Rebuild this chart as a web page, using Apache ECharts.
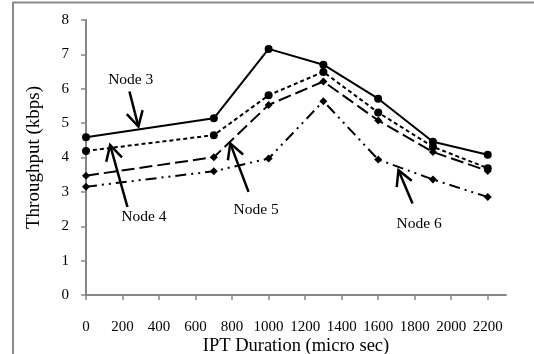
<!DOCTYPE html>
<html>
<head>
<meta charset="utf-8">
<script src="https://cdn.jsdelivr.net/npm/echarts@6/dist/echarts.min.js"></script>
<style>
html,body{margin:0;padding:0;background:#fff;}
#chart{width:534px;height:354px;}
</style>
</head>
<body>
<div id="chart"></div>
<script>
// ---- data ----
const xValues = [0, 700, 1000, 1300, 1600, 1900, 2200];
const node3 = [4.59, 5.14, 7.16, 6.70, 5.71, 4.46, 4.08];
const node4 = [4.19, 4.65, 5.81, 6.49, 5.31, 4.31, 3.69];
const node5 = [3.47, 4.01, 5.53, 6.21, 5.08, 4.16, 3.61];
const node6 = [3.15, 3.60, 3.97, 5.64, 3.94, 3.36, 2.85];
const xTickLabels = [0, 200, 400, 600, 800, 1000, 1200, 1400, 1600, 1800, 2000, 2200];
const yTickLabels = [0, 1, 2, 3, 4, 5, 6, 7, 8];
const seriesNames = ['Node 3', 'Node 4', 'Node 5', 'Node 6'];
// annotation (data coords): arrow tip, arrow tail, label position
const annotTips  = [[287, 4.90], [132, 4.36], [790, 4.41], [1711, 3.63]];
const annotTails = [[238, 5.92], [227, 2.56], [890, 3.00], [1788, 2.66]];
const annotLabels = [[245, 6.26], [317, 2.28], [932, 2.47], [1824, 2.07]];

const FONT = '"Liberation Serif", "Times New Roman", serif';
const pair = arr => xValues.map((x, i) => [x, arr[i]]);

const chart = echarts.init(document.getElementById('chart'), null, {renderer: 'canvas'});

function mkSeries(name, data, dash, symbol, size) {
  return {
    name: name, type: 'line', data: pair(data),
    symbol: symbol, symbolSize: size,
    itemStyle: {color: '#000'},
    lineStyle: {color: '#000', width: 2, type: dash},
    animation: false, z: 3
  };
}

chart.setOption({
  animation: false,
  backgroundColor: '#fff',
  grid: {left: 86, top: 20, right: 28, bottom: 59, outerBoundsMode: 'none', containLabel: false},
  xAxis: {
    type: 'value', min: 0, max: 2300,
    name: 'IPT Duration (micro sec)', nameLocation: 'middle', nameGap: 42, nameMoveOverlap: false,
    nameTextStyle: {fontFamily: FONT, fontSize: 18.5, color: '#000'},
    axisLine: {show: true, onZero: false, lineStyle: {color: '#868686', width: 2}},
    axisTick: {show: true, length: 5, customValues: xTickLabels, lineStyle: {color: '#868686', width: 1.5}},
    axisLabel: {customValues: xTickLabels, margin: 25, fontFamily: FONT, fontSize: 15, color: '#000',
      formatter: v => String(v)},
    splitLine: {show: false}
  },
  yAxis: {
    type: 'value', min: 0, max: 8, interval: 1,
    name: 'Throughput (kbps)', nameLocation: 'middle', nameGap: 42, nameRotate: 90, nameMoveOverlap: false,
    nameTextStyle: {fontFamily: FONT, fontSize: 19, color: '#000'},
    axisLine: {show: true, lineStyle: {color: '#868686', width: 2}},
    axisTick: {show: true, length: 5, lineStyle: {color: '#868686', width: 1.5}},
    axisLabel: {margin: 17, fontFamily: FONT, fontSize: 15, color: '#000',
      formatter: v => yTickLabels.indexOf(v) >= 0 ? String(v) : ''},
    splitLine: {show: false}
  },
  series: [
    mkSeries(seriesNames[0], node3, 'solid', 'circle', 8),
    mkSeries(seriesNames[1], node4, [4, 3], 'circle', 8),
    mkSeries(seriesNames[2], node5, [13, 5], 'diamond', 8),
    mkSeries(seriesNames[3], node6, [11, 5, 2, 5, 2, 5], 'diamond', 8)
  ]
});

// annotations: arrows + labels, positioned via the axes
function drawAnnotations() {
  const elements = [];
  // frame
  elements.push({type: 'line', shape: {x1: 13, y1: 2.5, x2: 534, y2: 2.5}, style: {stroke: '#8a8a8a', lineWidth: 2}});
  elements.push({type: 'line', shape: {x1: 13, y1: 2, x2: 13, y2: 354}, style: {stroke: '#8a8a8a', lineWidth: 2}});
  for (let i = 0; i < annotTips.length; i++) {
    const tip = chart.convertToPixel({gridIndex: 0}, annotTips[i]);
    const tail = chart.convertToPixel({gridIndex: 0}, annotTails[i]);
    const lab = chart.convertToPixel({gridIndex: 0}, annotLabels[i]);
    const ang = Math.atan2(tail[1] - tip[1], tail[0] - tip[0]);
    const wl = 17, spread = 0.5;
    const w1 = [tip[0] + wl * Math.cos(ang + spread), tip[1] + wl * Math.sin(ang + spread)];
    const w2 = [tip[0] + wl * Math.cos(ang - spread), tip[1] + wl * Math.sin(ang - spread)];
    elements.push({type: 'line', shape: {x1: tail[0], y1: tail[1], x2: tip[0], y2: tip[1]}, style: {stroke: '#000', lineWidth: 2.5}, z: 10});
    elements.push({type: 'polyline', shape: {points: [w1, tip, w2]}, style: {stroke: '#000', lineWidth: 2.5, fill: null}, z: 10});
    elements.push({type: 'text', x: lab[0], y: lab[1], style: {text: seriesNames[i], font: '15.5px ' + FONT, fill: '#000', align: 'center', verticalAlign: 'middle'}, z: 11});
  }
  chart.setOption({graphic: elements});
}
drawAnnotations();
</script>
</body>
</html>
